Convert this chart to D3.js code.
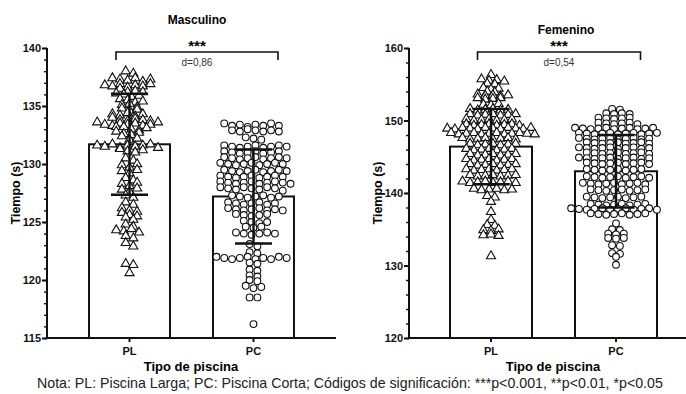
<!DOCTYPE html>
<html>
<head>
<meta charset="utf-8">
<script src="https://cdn.jsdelivr.net/npm/d3@7"></script>
<style>
  body { margin: 0; background: #fff; }
  text { font-family: "Liberation Sans", Arial, sans-serif; }
</style>
</head>
<body>
<svg id="chart" width="686" height="394"></svg>
<script>
// categories and summary values
var categories = ["PL", "PC"];
var panels = ["Masculino", "Femenino"];
var meansMasc = [131.7, 127.2];
var sdMasc = [4.35, 4.05];
var meansFem = [146.4, 143.0];
var sdFem = [5.2, 5.0];
var effectLabels = ["d=0,86", "d=0,54"];
var yTicksMasc = [115, 120, 125, 130, 135, 140];
var yTicksFem = [120, 130, 140, 150, 160];

// individual swimmers (estimated, one line per visible row)
var plMasc = [138.0, 137.8,
  137.4, 137.3, 137.2, 137.4, 137.1, 137.3,
  136.8, 136.7, 136.9, 136.6, 136.8, 136.7, 136.9, 136.5,
  136.2, 136.1, 136.3, 136.0, 136.2,
  135.8, 135.6, 135.9, 135.5,
  135.3, 135.1, 135.2, 135.4,
  134.8, 134.6, 134.9, 134.7,
  134.3, 134.2, 134.4, 134.1, 134.3, 134.0,
  133.8, 133.7, 133.9, 133.6, 133.8, 133.7,
  133.4, 133.3, 133.5, 133.4, 133.2, 133.5, 133.3, 133.4, 133.6, 133.2,
  133.0, 132.9, 133.1, 132.8,
  132.6, 132.5, 132.7, 132.4,
  132.1, 132.2,
  131.6, 131.5, 131.7, 131.4, 131.6, 131.5, 131.3, 131.6, 131.7, 131.4,
  131.1, 131.0, 131.2,
  130.5, 130.3,
  129.9, 129.7, 130.0,
  129.4, 129.2, 129.5,
  128.8, 128.6,
  128.3, 128.1, 128.4,
  127.8, 127.6, 127.9,
  127.3, 127.1,
  126.7, 126.5,
  126.2, 126.0,
  125.8, 125.6, 125.9,
  125.4, 125.2, 125.5,
  124.8, 124.6,
  124.3, 124.2, 124.4, 124.1,
  123.8, 123.6,
  123.2, 122.9,
  121.4, 121.3,
  120.6];

var pcMasc = [133.5, 133.3, 133.4, 133.2, 133.4, 133.3, 133.5, 133.3,
  132.9, 132.8, 133.0, 132.9, 132.8, 132.9, 132.8,
  132.3, 132.2, 132.1,
  131.6, 131.5, 131.4, 131.5, 131.6, 131.4, 131.5, 131.6, 131.5,
  131.1, 131.0, 130.9, 131.0, 131.1, 130.9, 131.0, 131.1,
  130.6, 130.5, 130.4, 130.5, 130.6, 130.4, 130.5, 130.6, 130.5,
  130.1, 130.0, 129.9, 130.0, 130.1, 129.9, 130.0, 130.1, 130.0,
  129.5, 129.4, 129.3, 129.4, 129.5, 129.3, 129.4, 129.5, 129.4,
  129.0, 128.9, 128.8, 128.9, 129.0, 128.8, 128.9, 129.0, 128.9,
  128.5, 128.4, 128.3, 128.4, 128.5, 128.3, 128.4, 128.5, 128.4, 128.3,
  128.0, 127.9, 127.8, 128.0, 127.9, 127.8, 128.0, 127.9, 127.7,
  127.3, 127.2, 127.1, 127.2, 127.3, 127.1, 127.2,
  126.7, 126.6, 126.5, 126.6, 126.7, 126.5, 126.6,
  126.2, 126.1, 126.0, 126.1, 126.2, 126.0, 126.1, 126.0,
  125.7, 125.6, 125.5, 125.6, 125.7,
  125.1, 125.0, 124.9, 125.0,
  124.6, 124.5, 124.6,
  124.1, 124.0, 123.9, 124.0, 124.1, 124.0,
  123.1, 122.9,
  122.4, 122.3,
  122.0, 121.9, 121.8, 121.9, 122.0, 121.8, 121.9, 121.8, 122.0, 121.9,
  121.5, 121.4,
  120.9, 120.8,
  120.4, 120.3,
  120.0, 119.9,
  119.5, 119.3, 119.4,
  118.5, 118.5,
  116.2];

var plFem = [156.3,
  155.7, 155.5, 155.6, 155.4,
  155.1, 155.0,
  154.5, 154.3, 154.4,
  154.0, 153.9,
  153.6, 153.4, 153.5, 153.4, 153.5,
  153.1, 152.9, 153.0, 153.1,
  152.2, 152.1, 152.3,
  151.6, 151.4, 151.5, 151.6, 151.4, 151.5,
  150.9, 150.7, 150.8, 150.9, 150.7, 150.8, 150.9,
  150.2, 150.0, 150.1, 150.2, 150.0, 150.1, 150.2,
  149.5, 149.3, 149.4, 149.5, 149.3, 149.4, 149.5, 149.3,
  148.9, 148.8, 149.0, 148.9, 148.8, 149.0, 148.9, 148.8, 149.0, 148.9, 148.8, 149.0,
  148.3, 148.1, 148.2, 148.3, 148.1, 148.2, 148.3, 148.1, 148.2, 148.3, 148.2, 148.1,
  147.6, 147.4, 147.5, 147.6, 147.4, 147.5, 147.6, 147.4,
  146.8, 146.6, 146.7, 146.8, 146.6, 146.7, 146.8,
  146.1, 145.9, 146.0, 146.1, 145.9, 146.0, 146.1,
  145.4, 145.2, 145.3, 145.4, 145.2, 145.3, 145.4,
  144.7, 144.5, 144.6, 144.7, 144.5, 144.6, 144.7,
  144.0, 143.8, 143.9, 144.0, 143.8, 143.9, 144.0,
  143.3, 143.1, 143.2, 143.3, 143.1, 143.2, 143.3,
  142.5, 142.3, 142.4, 142.5, 142.3, 142.4, 142.5,
  141.6, 141.4, 141.5, 141.6, 141.4, 141.5, 141.6, 141.4,
  140.6, 140.4, 140.5, 140.6, 140.4, 140.5,
  139.6, 139.4,
  138.8,
  137.4,
  136.3,
  135.6, 135.5,
  134.9, 134.8, 135.0,
  134.2, 134.3, 134.1,
  131.3];

var pcFem = [151.6, 151.5,
  151.0, 150.9, 151.0, 150.9,
  150.4, 150.3, 150.2, 150.3, 150.4,
  149.7, 149.6, 149.5, 149.6, 149.7, 149.5,
  149.0, 148.9, 148.8, 148.9, 149.0, 148.8, 148.9, 149.0, 148.8, 148.9, 149.0,
  148.3, 148.2, 148.1, 148.2, 148.3, 148.1, 148.2, 148.3, 148.1, 148.2, 148.3,
  147.6, 147.5, 147.4, 147.5, 147.6, 147.4, 147.5, 147.6, 147.4, 147.5,
  147.0, 146.9, 146.8, 146.9, 147.0, 146.8, 146.9, 147.0, 146.8,
  146.3, 146.2, 146.1, 146.2, 146.3, 146.1, 146.2, 146.3, 146.1, 146.2,
  145.6, 145.5, 145.4, 145.5, 145.6, 145.4, 145.5, 145.6, 145.4,
  144.9, 144.8, 144.7, 144.8, 144.9, 144.7, 144.8, 144.9, 144.7, 144.8,
  144.2, 144.1, 144.0, 144.1, 144.2, 144.0, 144.1, 144.2, 144.0,
  143.3, 143.2, 143.1, 143.2, 143.3, 143.1, 143.2, 143.3,
  142.3, 142.2, 142.1, 142.2, 142.3, 142.1, 142.2, 142.3, 142.1,
  141.4, 141.3, 141.2, 141.3, 141.4, 141.2, 141.3, 141.4, 141.2,
  140.5, 140.4, 140.3, 140.4, 140.5, 140.3, 140.4, 140.5,
  139.5, 139.4, 139.3, 139.4, 139.5, 139.3, 139.4, 139.5,
  138.5, 138.4, 138.3, 138.4, 138.5, 138.3, 138.4, 138.5,
  137.9, 137.8, 137.7, 137.8, 137.9, 137.7, 137.8, 137.9, 137.7, 137.8, 137.9, 137.7,
  137.2, 137.1, 137.0, 137.1, 137.2, 137.0, 137.1, 137.2,
  135.8,
  135.0, 134.9,
  134.4, 134.3, 134.4,
  133.8, 133.7, 133.8,
  132.8, 132.7,
  131.7, 131.6,
  131.2,
  130.1];

var svg = d3.select("#chart");

// row scatter (GraphPad-like): nearby values share a row, spread sideways
function rowScatter(values, y, cx, spacing, thresh) {
  var items = values.map(function (v, i) { return { v: v, i: i }; })
    .sort(function (a, b) { return b.v - a.v || a.i - b.i; });
  var rows = [], cur = null;
  items.forEach(function (d) {
    if (!cur || cur.top - d.v > thresh) { cur = { top: d.v, list: [] }; rows.push(cur); }
    cur.list.push(d);
  });
  var out = [];
  rows.forEach(function (r, k) {
    r.list.sort(function (a, b) { return a.i - b.i; });
    var n = r.list.length;
    var shift = n > 3 ? (k % 2 ? 1 : -1) * spacing / 4 : 0;
    r.list.forEach(function (d, j) {
      out.push({ x: cx + shift + (j - (n - 1) / 2) * spacing, y: y(d.v) });
    });
  });
  return out;
}

function drawPanel(opt) {
  var g = svg.append("g");
  var y = d3.scaleLinear().domain(opt.domain).range([338, 48]);
  var x = d3.scaleBand().domain(categories).range(opt.range)
    .paddingInner(opt.padIn).paddingOuter(opt.padOut);

  // bars
  g.selectAll("rect.bar").data(opt.means).enter().append("rect")
    .attr("x", function (d, i) { return x(categories[i]); })
    .attr("y", function (d) { return y(d); })
    .attr("width", x.bandwidth())
    .attr("height", function (d) { return 338 - y(d); })
    .attr("fill", "#fff").attr("stroke", "#111").attr("stroke-width", 2);

  // individual points
  var sym = [d3.symbolTriangle, d3.symbolCircle];
  opt.points.forEach(function (vals, i) {
    var cx = x(categories[i]) + x.bandwidth() / 2;
    var pts = rowScatter(vals, y, cx, i === 0 ? 7.6 : 7.8, 0.38);
    g.selectAll(null).data(pts).enter().append("path")
      .attr("d", d3.symbol().type(sym[i]).size(36))
      .attr("transform", function (p) { return "translate(" + p.x + "," + p.y + ")"; })
      .attr("fill", "#fff").attr("stroke", "#111").attr("stroke-width", 1.1);
  });

  // error bars (mean ± SD)
  opt.means.forEach(function (m, i) {
    var cx = x(categories[i]) + x.bandwidth() / 2;
    var hi = y(m + opt.sd[i]), lo = y(m - opt.sd[i]);
    g.append("line").attr("x1", cx).attr("x2", cx).attr("y1", hi).attr("y2", lo)
      .attr("stroke", "#111").attr("stroke-width", 2.4);
    [hi, lo].forEach(function (yy) {
      g.append("line").attr("x1", cx - 18.5).attr("x2", cx + 18.5).attr("y1", yy).attr("y2", yy)
        .attr("stroke", "#111").attr("stroke-width", 2.4);
    });
  });

  // y axis
  var minor = d3.range(opt.domain[0], opt.domain[1] + 0.001, opt.minorStep);
  var ya = g.append("g").attr("transform", "translate(" + opt.axisX + ",0)")
    .call(d3.axisLeft(y).tickValues(minor).tickSize(3).tickFormat(""));
  ya.select(".domain").remove();
  ya.selectAll("line").attr("stroke", "#111").attr("stroke-width", 1.4);
  var yb = g.append("g").attr("transform", "translate(" + opt.axisX + ",0)")
    .call(d3.axisLeft(y).tickValues(opt.ticks).tickSize(5).tickPadding(1));
  yb.select(".domain").attr("stroke", "#111").attr("stroke-width", 2).attr("d", "M0,338V48");
  yb.selectAll("line").attr("stroke", "#111").attr("stroke-width", 2);
  yb.selectAll("text").attr("font-size", 11).attr("font-weight", "bold").attr("fill", "#111");

  // x axis
  var xa = g.append("g").attr("transform", "translate(0,338)")
    .call(d3.axisBottom(x).tickSize(4).tickPadding(5));
  xa.select(".domain").attr("stroke", "#111").attr("stroke-width", 2)
    .attr("d", "M" + opt.axisX + ",0H" + opt.axisEnd);
  xa.selectAll("line").attr("stroke", "#111").attr("stroke-width", 2);
  xa.selectAll("text").attr("font-size", 11).attr("font-weight", "bold").attr("fill", "#111");

  // titles
  g.append("text").attr("x", opt.titleX).attr("y", opt.titleY).attr("text-anchor", "middle")
    .attr("font-size", 12).attr("font-weight", "bold").text(opt.title);
  g.append("text").attr("x", opt.xTitleX).attr("y", 371).attr("text-anchor", "middle")
    .attr("font-size", 13).attr("font-weight", "bold").text("Tipo de piscina");
  g.append("text").attr("transform", "translate(" + (opt.axisX - 27) + ",193) rotate(-90)")
    .attr("text-anchor", "middle").attr("font-size", 12.5).attr("font-weight", "bold").text("Tiempo (s)");

  // significance bracket
  var x1 = x("PL") + x.bandwidth() / 2 - 13.5, x2 = x("PC") + x.bandwidth() / 2 + 24.5;
  g.append("path").attr("d", "M" + x1 + ",60V52H" + x2 + "V60")
    .attr("fill", "none").attr("stroke", "#111").attr("stroke-width", 1.6);
  g.append("text").attr("x", (x1 + x2) / 2).attr("y", 51).attr("text-anchor", "middle")
    .attr("font-size", 15).attr("font-weight", "bold").text("***");
  g.append("text").attr("x", (x1 + x2) / 2).attr("y", 66).attr("text-anchor", "middle")
    .attr("font-size", 10).attr("fill", "#333").text(opt.effect);
}

drawPanel({
  title: panels[0], titleX: 197, titleY: 24, domain: [115, 140], ticks: yTicksMasc, minorStep: 1,
  means: meansMasc, sd: sdMasc, points: [plMasc, pcMasc], effect: effectLabels[0],
  axisX: 47, axisEnd: 336, range: [47, 336], padIn: 0.347, padOut: 0.339, xTitleX: 191
});
drawPanel({
  title: panels[1], titleX: 566, titleY: 34, domain: [120, 160], ticks: yTicksFem, minorStep: 2,
  means: meansFem, sd: sdFem, points: [plFem, pcFem], effect: effectLabels[1],
  axisX: 409, axisEnd: 686, range: [409, 698], padIn: 0.344, padOut: 0.328, xTitleX: 553
});

svg.append("text").attr("x", 37).attr("y", 388).attr("font-size", 14.2).attr("fill", "#222")
  .text("Nota: PL: Piscina Larga; PC: Piscina Corta; Códigos de significación: ***p<0.001, **p<0.01, *p<0.05");
</script>
</body>
</html>
